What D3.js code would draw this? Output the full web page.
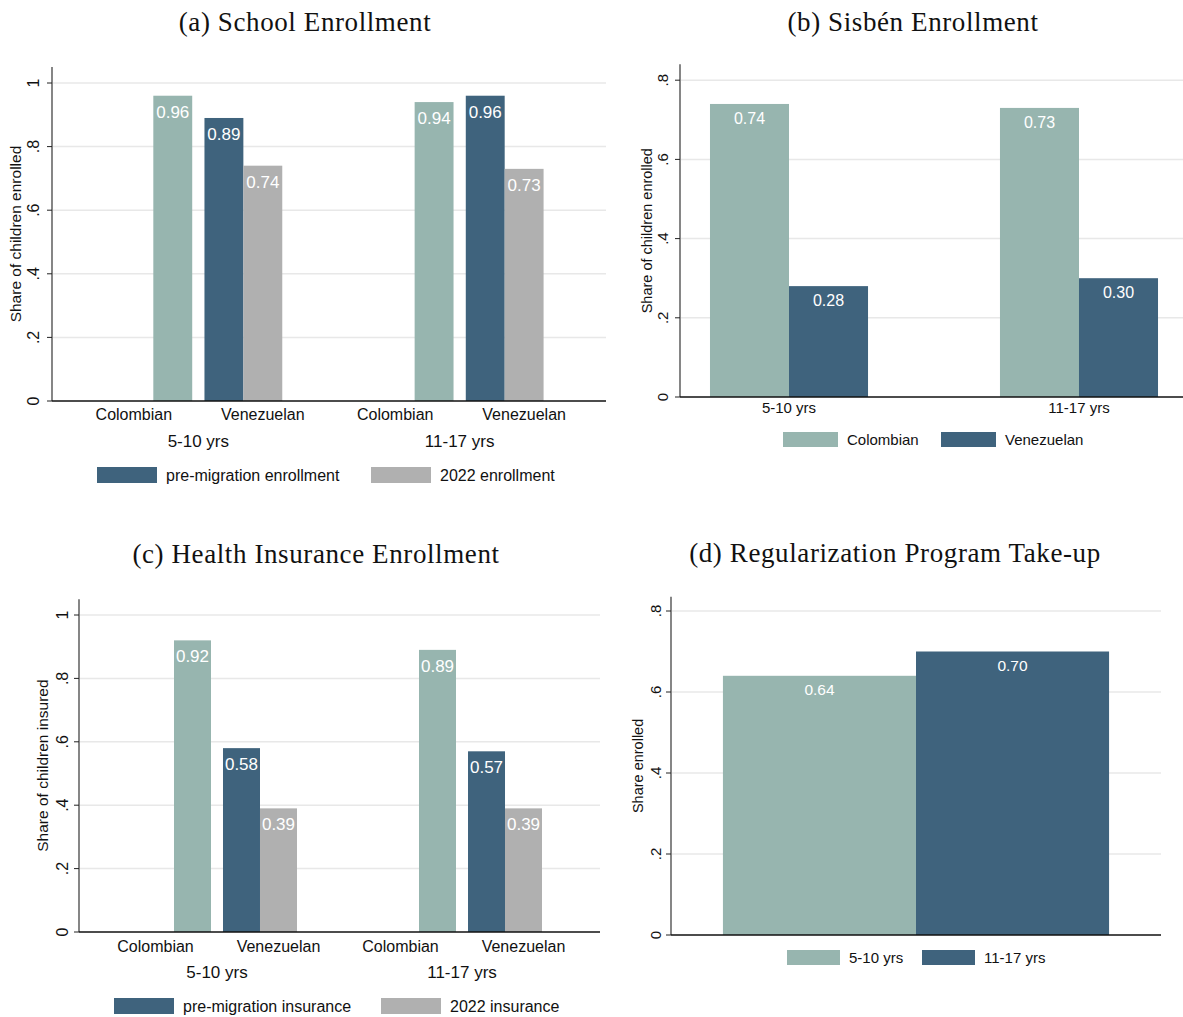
<!DOCTYPE html>
<html>
<head>
<meta charset="utf-8">
<script src="https://cdn.jsdelivr.net/npm/d3@7"></script>
<style>
  html, body { margin: 0; padding: 0; background: #fff; }
  svg { display: block; }
  .title { font-family: "Palatino Linotype", Palatino, "Liberation Serif", serif; fill: #111; letter-spacing: 0.6px; }
  .sans { font-family: "Liberation Sans", Arial, Helvetica, sans-serif; fill: #111; }
</style>
</head>
<body>
<svg id="chart" width="1183" height="1017"></svg>
<script>
// ---- data ----
const ages = ["5-10 yrs", "11-17 yrs"];
const nationalities = ["Colombian", "Venezuelan"];

// (a) school enrollment
const schoolColombian = [0.96, 0.94];
const schoolPreMigration = [0.89, 0.96];
const school2022 = [0.74, 0.73];

// (b) Sisbén enrollment
const sisbenColombian = [0.74, 0.73];
const sisbenVenezuelan = [0.28, 0.30];

// (c) health insurance
const healthColombian = [0.92, 0.89];
const healthPreMigration = [0.58, 0.57];
const health2022 = [0.39, 0.39];

// (d) regularization program take-up
const regularization = [0.64, 0.70];

const yTicksA = [0, 0.2, 0.4, 0.6, 0.8, 1];
const yTicksB = [0, 0.2, 0.4, 0.6, 0.8];

// ---- style ----
const TEAL = "#97b5af";
const NAVY = "#3f637d";
const GRAY = "#b0b0b0";
const GRID = "#e8e8e8";

const svg = d3.select("#chart");

const fmtTick = v => v === 0 ? "0" : (v === 1 ? "1" : d3.format(".1f")(v).replace(/^0/, ""));
const fmtVal = d3.format(".2f");

function drawFrame(g, p) {
  const y = d3.scaleLinear().domain([0, p.top]).range([p.y0, p.y0 - p.top * p.ppu]);
  // gridlines
  g.append("g").selectAll("line").data(p.ticks.filter(t => t > 0)).join("line")
    .attr("x1", p.left + 1).attr("x2", p.right)
    .attr("y1", d => y(d)).attr("y2", d => y(d))
    .attr("stroke", GRID).attr("stroke-width", 1.5);
  return y;
}

function drawAxes(g, p, y) {
  // y axis line + ticks
  g.append("line").attr("x1", p.left).attr("x2", p.left)
    .attr("y1", y.range()[1]).attr("y2", p.y0)
    .attr("stroke", "#444").attr("stroke-width", 1.3);
  g.append("g").selectAll("line").data(p.ticks).join("line")
    .attr("x1", p.left - 5).attr("x2", p.left)
    .attr("y1", d => y(d)).attr("y2", d => y(d))
    .attr("stroke", "#222").attr("stroke-width", 1);
  g.append("g").selectAll("text").data(p.ticks).join("text")
    .attr("class", "sans")
    .attr("transform", d => `translate(${p.tickX},${y(d)}) rotate(-90)`)
    .attr("text-anchor", "middle").attr("dominant-baseline", "central")
    .style("font-size", p.tickSize + "px")
    .text(fmtTick);
  // y axis title
  g.append("text").attr("class", "sans")
    .attr("transform", `translate(${p.titleX},${(y.range()[1] + p.y0) / 2}) rotate(-90)`)
    .attr("text-anchor", "middle").attr("dominant-baseline", "central")
    .style("font-size", p.yTitleSize + "px")
    .text(p.yTitle);
  // x axis line
  g.append("line").attr("x1", p.left).attr("x2", p.right)
    .attr("y1", p.y0).attr("y2", p.y0)
    .attr("stroke", "#111").attr("stroke-width", 1.3);
}

function drawTitle(text, cx, baseline) {
  svg.append("text").attr("class", "title")
    .attr("x", cx).attr("y", baseline)
    .attr("text-anchor", "middle")
    .style("font-size", "27px")
    .text(text);
}

function drawLegend(items, swW, swH, swY, textY, size) {
  items.forEach(it => {
    svg.append("rect").attr("x", it.x).attr("y", swY)
      .attr("width", swW).attr("height", swH).attr("fill", it.color);
    svg.append("text").attr("class", "sans")
      .attr("x", it.x + swW + 9).attr("y", textY)
      .style("font-size", size + "px").text(it.label);
  });
}

function valueLabel(g, x, y, v, size, off) {
  g.append("text").attr("class", "sans")
    .attr("x", x).attr("y", y + off)
    .attr("text-anchor", "middle")
    .style("fill", "#fff")
    .style("font-size", size + "px")
    .text(fmtVal(v));
}

// grouped panel: age -> nationality -> series slot
function groupedPanel(p, colombian, pre, post, legendItems, legendY) {
  const g = svg.append("g");
  const y = drawFrame(g, p);
  const xAge = d3.scaleBand().domain(ages).range([p.left, p.right])
    .paddingInner(p.ageInner).paddingOuter(p.ageOuter);
  const xNat = d3.scaleBand().domain(nationalities).range([0, xAge.bandwidth()])
    .paddingInner(p.natInner).paddingOuter(0);
  const slots = ["pre", "post", "col"];
  const xSlot = d3.scaleBand().domain(slots).range([0, xNat.bandwidth()]);

  const bars = [];
  ages.forEach((a, i) => {
    bars.push({ age: a, nat: "Colombian", slot: "col", v: colombian[i], color: TEAL });
    bars.push({ age: a, nat: "Venezuelan", slot: "pre", v: pre[i], color: NAVY });
    bars.push({ age: a, nat: "Venezuelan", slot: "post", v: post[i], color: GRAY });
  });
  const bx = d => xAge(d.age) + xNat(d.nat) + xSlot(d.slot);
  g.append("g").selectAll("rect").data(bars).join("rect")
    .attr("x", bx).attr("width", xSlot.bandwidth())
    .attr("y", d => y(d.v)).attr("height", d => p.y0 - y(d.v))
    .attr("fill", d => d.color);
  bars.forEach(d => valueLabel(g, bx(d) + xSlot.bandwidth() / 2, y(d.v), d.v, p.valSize, p.valOff));

  drawAxes(g, p, y);

  // nationality and age labels
  ages.forEach(a => {
    nationalities.forEach(n => {
      g.append("text").attr("class", "sans")
        .attr("x", xAge(a) + xNat(n) + xNat.bandwidth() / 2).attr("y", p.catY)
        .attr("text-anchor", "middle").style("font-size", p.catSize + "px").text(n);
    });
    g.append("text").attr("class", "sans")
      .attr("x", xAge(a) + xAge.bandwidth() / 2).attr("y", p.ageY)
      .attr("text-anchor", "middle").style("font-size", p.ageSize + "px").text(a);
  });
  drawLegend(legendItems, 60, 16, legendY, legendY + 14, p.legSize);
}

// (a) School Enrollment
drawTitle("(a) School Enrollment", 305, 31);
groupedPanel({
  left: 52, right: 606, y0: 401, ppu: 318, top: 1.05, ticks: yTicksA,
  ageInner: 0.06, ageOuter: 0.09, natInner: 0.095,
  tickX: 33, tickSize: 16, titleX: 15, yTitleSize: 15.5, yTitle: "Share of children enrolled",
  valSize: 17, valOff: 22, catY: 420, catSize: 16, ageY: 447, ageSize: 17, legSize: 16
}, schoolColombian, schoolPreMigration, school2022,
[{ x: 97, color: NAVY, label: "pre-migration enrollment" },
 { x: 371, color: GRAY, label: "2022 enrollment" }], 467);

// (c) Health Insurance Enrollment
drawTitle("(c) Health Insurance Enrollment", 316, 563);
groupedPanel({
  left: 79, right: 600, y0: 932, ppu: 317, top: 1.05, ticks: yTicksA,
  ageInner: 0.045, ageOuter: 0.0857, natInner: 0.0976,
  tickX: 62, tickSize: 16, titleX: 42, yTitleSize: 15.5, yTitle: "Share of children insured",
  valSize: 17, valOff: 22, catY: 952, catSize: 16, ageY: 978, ageSize: 17, legSize: 16
}, healthColombian, healthPreMigration, health2022,
[{ x: 114, color: NAVY, label: "pre-migration insurance" },
 { x: 381, color: GRAY, label: "2022 insurance" }], 998);

// (b) Sisbén Enrollment
drawTitle("(b) Sisbén Enrollment", 913, 31);
(function () {
  const p = {
    left: 680, right: 1188, y0: 397, ppu: 396, top: 0.84, ticks: yTicksB,
    tickX: 662, tickSize: 15, titleX: 647, yTitleSize: 14.5, yTitle: "Share of children enrolled"
  };
  const g = svg.append("g");
  const y = drawFrame(g, p);
  const xAge = d3.scaleBand().domain(ages).range([p.left, p.right])
    .paddingInner(0.455).paddingOuter(0.1034);
  const xNat = d3.scaleBand().domain(nationalities).range([0, xAge.bandwidth()]);
  const bars = [];
  ages.forEach((a, i) => {
    bars.push({ age: a, nat: "Colombian", v: sisbenColombian[i], color: TEAL });
    bars.push({ age: a, nat: "Venezuelan", v: sisbenVenezuelan[i], color: NAVY });
  });
  const bx = d => xAge(d.age) + xNat(d.nat);
  g.append("g").selectAll("rect").data(bars).join("rect")
    .attr("x", bx).attr("width", xNat.bandwidth())
    .attr("y", d => y(d.v)).attr("height", d => p.y0 - y(d.v))
    .attr("fill", d => d.color);
  bars.forEach(d => valueLabel(g, bx(d) + xNat.bandwidth() / 2, y(d.v), d.v, 16, 20));
  drawAxes(g, p, y);
  ages.forEach(a => {
    g.append("text").attr("class", "sans")
      .attr("x", xAge(a) + xAge.bandwidth() / 2).attr("y", 413)
      .attr("text-anchor", "middle").style("font-size", "15px").text(a);
  });
  drawLegend([{ x: 783, color: TEAL, label: "Colombian" },
              { x: 941, color: NAVY, label: "Venezuelan" }], 55, 15, 432, 445, 15);
})();

// (d) Regularization Program Take-up
drawTitle("(d) Regularization Program Take-up", 895, 562);
(function () {
  const p = {
    left: 671, right: 1161, y0: 935, ppu: 405, top: 0.835, ticks: yTicksB,
    tickX: 655, tickSize: 15, titleX: 638, yTitleSize: 14.5, yTitle: "Share enrolled"
  };
  const g = svg.append("g");
  const y = drawFrame(g, p);
  const x = d3.scaleBand().domain(ages).range([p.left, p.right])
    .paddingInner(0).paddingOuter(0.269);
  const colors = [TEAL, NAVY];
  const bars = ages.map((a, i) => ({ age: a, v: regularization[i], color: colors[i] }));
  g.append("g").selectAll("rect").data(bars).join("rect")
    .attr("x", d => x(d.age)).attr("width", x.bandwidth())
    .attr("y", d => y(d.v)).attr("height", d => p.y0 - y(d.v))
    .attr("fill", d => d.color);
  bars.forEach(d => valueLabel(g, x(d.age) + x.bandwidth() / 2, y(d.v), d.v, 15.5, 19));
  drawAxes(g, p, y);
  drawLegend([{ x: 787, color: TEAL, label: "5-10 yrs" },
              { x: 922, color: NAVY, label: "11-17 yrs" }], 53, 15, 950, 963, 15);
})();
</script>
</body>
</html>
